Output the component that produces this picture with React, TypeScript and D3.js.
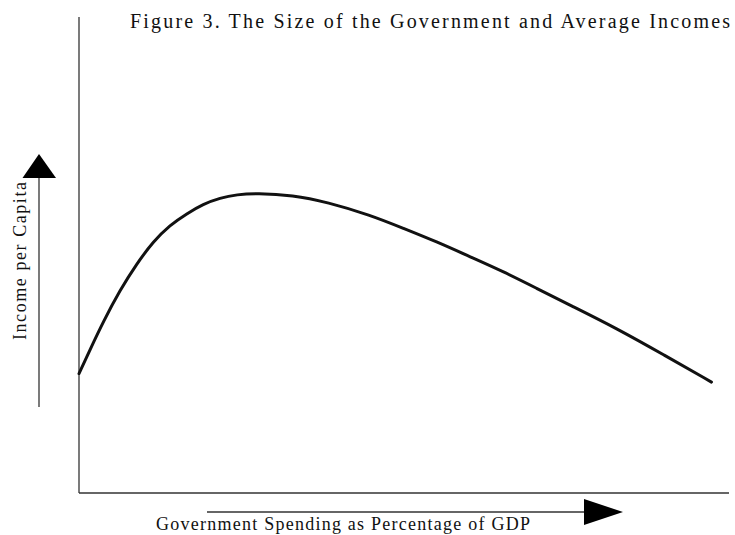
import React, { useRef, useEffect } from 'react';
import * as d3 from 'd3';

// spending share (% of GDP, axis units) vs. income per capita (index)
const spending = [0, 1.7, 3.7, 6.3, 8.9, 11.4, 14.0, 16.6, 19.1, 21.7, 24.3, 27.3, 32.9, 38.2, 44.8, 49.9, 55.0, 60.2, 65.3, 70.4, 75.5, 82.7, 90.0, 97.3];
const income = [25.1, 30.1, 35.9, 42.6, 48.2, 52.8, 56.3, 58.7, 60.7, 62.0, 62.7, 63.0, 62.6, 61.1, 58.4, 55.6, 52.8, 49.6, 46.5, 43.0, 39.5, 34.6, 29.0, 23.3];

const title = 'Figure 3. The Size of the Government and Average Incomes';
const xLabel = 'Government Spending as Percentage of GDP';
const yLabel = 'Income per Capita';

const W = 735;
const H = 535;

const App = () => {
    const ref = useRef<SVGSVGElement>(null);

    useEffect(() => {
        const svg = d3.select(ref.current);
        svg.selectAll('*').remove();

        const font = '"Liberation Serif", "Times New Roman", serif';

        // scales: plot box runs from the y axis to the right end of the x axis
        const x = d3.scaleLinear().domain([0, 100]).range([79, 729]);
        const y = d3.scaleLinear().domain([0, 100]).range([493, 17]);

        const data = spending.map((s, i) => ({ s, v: income[i] }));

        // --- axes (plain lines, no ticks) ---
        svg.append('line')
            .attr('x1', x(0)).attr('x2', x(0))
            .attr('y1', y(100)).attr('y2', y(0))
            .attr('stroke', '#333').attr('stroke-width', 1.3);
        svg.append('line')
            .attr('x1', x(0)).attr('x2', x(100))
            .attr('y1', y(0)).attr('y2', y(0))
            .attr('stroke', '#333').attr('stroke-width', 1.3);

        // --- curve (B-spline evens out the hand-read points) ---
        const line = d3.line<{ s: number; v: number }>()
            .x(d => x(d.s))
            .y(d => y(d.v))
            .curve(d3.curveBasis);

        svg.append('path')
            .datum(data)
            .attr('fill', 'none')
            .attr('stroke', '#111')
            .attr('stroke-width', 3)
            .attr('stroke-linecap', 'round')
            .attr('d', line);

        // --- title ---
        svg.append('text')
            .attr('x', 130)
            .attr('y', 28)
            .attr('font-family', font)
            .attr('font-size', 20)
            .attr('fill', '#111')
            .attr('textLength', 600)
            .attr('lengthAdjust', 'spacing')
            .text(title);

        // --- y arrow + label ---
        svg.append('line')
            .attr('x1', 39).attr('x2', 39)
            .attr('y1', 407).attr('y2', 177)
            .attr('stroke', '#333').attr('stroke-width', 1.3);
        svg.append('path')
            .attr('d', 'M39,154 L56,178 L22.5,178 Z')
            .attr('fill', '#000');
        svg.append('text')
            .attr('transform', 'translate(26,340) rotate(-90)')
            .attr('font-family', font)
            .attr('font-size', 18)
            .attr('fill', '#111')
            .attr('textLength', 158)
            .attr('lengthAdjust', 'spacing')
            .text(yLabel);

        // --- x arrow + label ---
        svg.append('line')
            .attr('x1', 207).attr('x2', 586)
            .attr('y1', 512).attr('y2', 512)
            .attr('stroke', '#333').attr('stroke-width', 1.3);
        svg.append('path')
            .attr('d', 'M584,499 L623,512 L584,525 Z')
            .attr('fill', '#000');
        svg.append('text')
            .attr('x', 156)
            .attr('y', 530)
            .attr('font-family', font)
            .attr('font-size', 18)
            .attr('fill', '#111')
            .attr('textLength', 374)
            .attr('lengthAdjust', 'spacing')
            .text(xLabel);
    }, []);

    return (
        <svg
            ref={ref}
            width={W}
            height={H}
            style={{ position: 'absolute', left: 0, top: 0, background: '#fff' }}
        />
    );
};

export default App;
